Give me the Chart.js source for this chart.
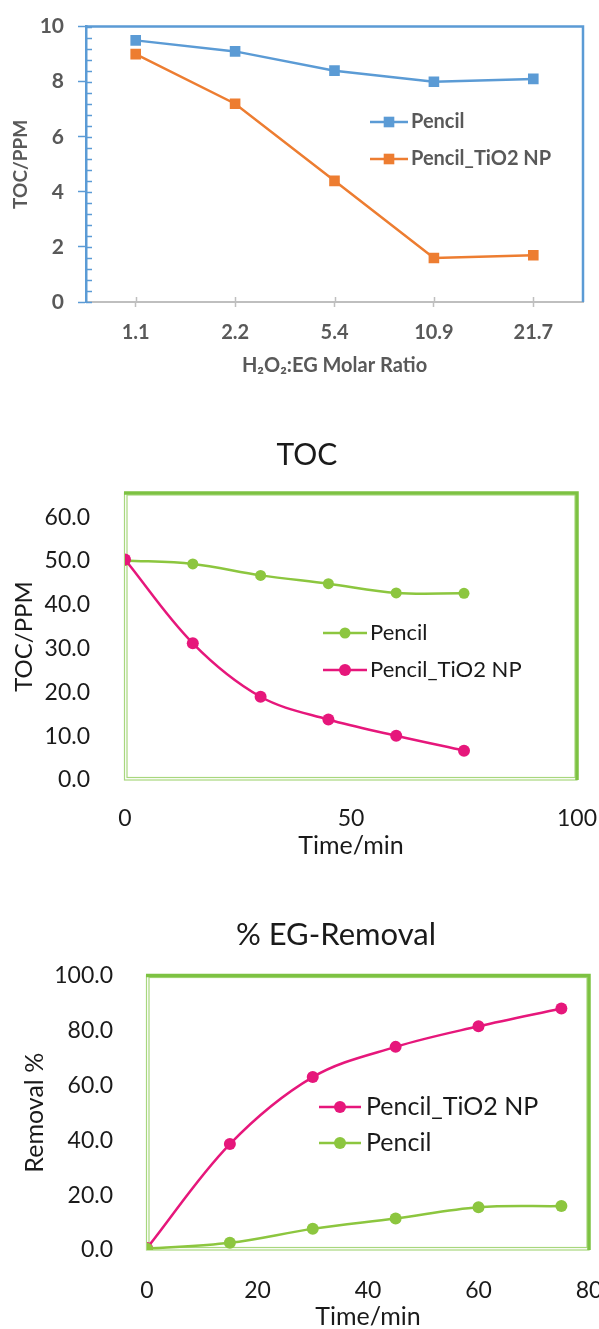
<!DOCTYPE html>
<html>
<head>
<meta charset="utf-8">
<script src="https://cdn.jsdelivr.net/npm/chart.js@4.4.1/dist/chart.umd.min.js"></script>
<style>
body { margin: 0; background: #fff; width: 599px; height: 1329px; overflow: hidden; position: relative; }
canvas { position: absolute; left: 0; }
</style>
</head>
<body>
<canvas id="chart1" width="599" height="380" style="top:0px"></canvas>
<canvas id="chart2" width="599" height="430" style="top:430px"></canvas>
<canvas id="chart3" width="599" height="432" style="top:900px"></canvas>
<script>
// chart 1: TOC vs H2O2:EG molar ratio
var molarRatios = ['1.1', '2.2', '5.4', '10.9', '21.7'];
var ratioPencil = [9.5, 9.1, 8.4, 8.0, 8.1];
var ratioPencilTiO2 = [9.0, 7.2, 4.4, 1.6, 1.7];

// chart 2: TOC vs time
var timeMin = [0, 15, 30, 45, 60, 75];
var tocPencil = [50.1, 49.3, 46.7, 44.8, 42.7, 42.6];
var tocPencilTiO2 = [50.3, 31.2, 19.0, 13.8, 10.1, 6.7];

// chart 3: % EG removal vs time
var removalPencilTiO2 = [0.7, 38.6, 63.0, 74.0, 81.5, 88.0];
var removalPencil = [0.5, 2.6, 7.7, 11.5, 15.6, 16.0];

var yTicks1 = [0, 2, 4, 6, 8, 10];
var yTicks2 = [0, 10, 20, 30, 40, 50, 60];
var yTicks3 = [0, 20, 40, 60, 80, 100];
var xTicks2 = [0, 50, 100];
var xTicks3 = [0, 20, 40, 60, 80];

var BLUE = '#5B9BD5', ORANGE = '#ED7D31', GREEN = '#8CC63F', PINK = '#E6177B';

Chart.defaults.font.family = 'Lato';

function pts(xs, ys) {
    return xs.map(function(x, i) { return { x: x, y: ys[i] }; });
}

function isListed(list, v) {
    return list.some(function(t) { return Math.abs(t - v) < 1e-6; });
}

function fixedTicks(list) {
    return function(s) { s.ticks = list.map(function(v) { return { value: v }; }); };
}

var blueFrame = {
    id: 'blueFrame',
    beforeDatasetsDraw: function(chart) {
        var a = chart.chartArea, ctx = chart.ctx;
        var ys = chart.scales.y, xs = chart.scales.x;
        ctx.save();
        ctx.strokeStyle = BLUE;
        ctx.lineWidth = 2.5;
        ctx.beginPath();
        ctx.moveTo(a.left, a.top);
        ctx.lineTo(a.right, a.top);
        ctx.lineTo(a.right, a.bottom);
        ctx.stroke();
        ctx.lineWidth = 1.5;
        ctx.beginPath();
        ys.ticks.forEach(function(t) {
            var y = Math.round(ys.getPixelForValue(t.value)) + 0.5;
            ctx.moveTo(a.left, y);
            ctx.lineTo(a.left + 6, y);
        });
        ctx.stroke();
        ctx.strokeStyle = '#BFBFBF';
        ctx.beginPath();
        xs.ticks.forEach(function(t, i) {
            var x = Math.round(xs.getPixelForTick(i)) + 0.5;
            ctx.moveTo(x, a.bottom);
            ctx.lineTo(x, a.bottom - 5);
        });
        ctx.stroke();
        ctx.restore();
    }
};

var greenFrame = {
    id: 'greenFrame',
    beforeDatasetsDraw: function(chart) {
        var a = chart.chartArea, ctx = chart.ctx;
        ctx.save();
        ctx.strokeStyle = '#A8D77E';
        ctx.lineWidth = 1.2;
        ctx.strokeRect(a.left - 0.5, a.top, a.right - a.left + 0.5, a.bottom - a.top);
        ctx.strokeRect(a.left + 2, a.top + 2, a.right - a.left - 4, a.bottom - a.top - 4.5);
        ctx.strokeStyle = '#7DC242';
        ctx.lineWidth = 3.5;
        ctx.beginPath();
        ctx.moveTo(a.left - 1, a.top);
        ctx.lineTo(a.right, a.top);
        ctx.lineTo(a.right, a.bottom);
        ctx.stroke();
        ctx.restore();
    }
};

var plotTitle = {
    id: 'plotTitle',
    afterDraw: function(chart, args, opts) {
        var ctx = chart.ctx;
        ctx.save();
        ctx.font = opts.font;
        ctx.fillStyle = opts.color;
        ctx.textAlign = 'center';
        ctx.textBaseline = 'middle';
        ctx.fillText(opts.text, opts.x, opts.y);
        ctx.restore();
    }
};

var insideLegend = {
    id: 'insideLegend',
    afterDraw: function(chart, args, opts) {
        var ctx = chart.ctx;
        chart.data.datasets.forEach(function(ds, i) {
            var y = opts.y[i];
            var mx = opts.x + opts.lineLength / 2;
            ctx.save();
            ctx.strokeStyle = ds.borderColor;
            ctx.lineWidth = ds.borderWidth;
            ctx.beginPath();
            ctx.moveTo(opts.x, y);
            ctx.lineTo(opts.x + opts.lineLength, y);
            ctx.stroke();
            ctx.fillStyle = ds.pointBackgroundColor;
            if (ds.pointStyle === 'rect') {
                var s = ds.pointRadius * Math.SQRT1_2;
                ctx.fillRect(mx - s, y - s, 2 * s, 2 * s);
            } else {
                ctx.beginPath();
                ctx.arc(mx, y, ds.pointRadius, 0, Math.PI * 2);
                ctx.fill();
            }
            ctx.font = opts.font;
            ctx.fillStyle = opts.color;
            ctx.textAlign = 'left';
            ctx.textBaseline = 'middle';
            ctx.fillText(ds.label, opts.x + opts.lineLength + opts.gap, y);
            ctx.restore();
        });
    }
};

// ---------- chart 1 ----------
new Chart(document.getElementById('chart1').getContext('2d'), {
    type: 'line',
    data: {
        labels: molarRatios,
        datasets: [{
            label: 'Pencil',
            data: ratioPencil,
            borderColor: BLUE,
            backgroundColor: BLUE,
            pointBackgroundColor: BLUE,
            borderWidth: 2.5,
            pointStyle: 'rect',
            pointRadius: 7.5,
            pointBorderWidth: 0,
            order: 2
        }, {
            label: 'Pencil_TiO2 NP',
            data: ratioPencilTiO2,
            borderColor: ORANGE,
            backgroundColor: ORANGE,
            pointBackgroundColor: ORANGE,
            borderWidth: 2.5,
            pointStyle: 'rect',
            pointRadius: 7.5,
            pointBorderWidth: 0,
            order: 1
        }]
    },
    options: {
        responsive: false,
        animation: false,
        layout: { padding: { top: 23, right: 16, left: 0, bottom: 0 } },
        plugins: {
            legend: { display: false },
            tooltip: { enabled: false },
            insideLegend: { x: 370, y: [122, 159], lineLength: 38, gap: 3, font: 'bold 20px Lato', color: '#595959' }
        },
        scales: {
            x: {
                offset: true,
                afterFit: function(s) { s.height = 78; s.paddingLeft = 0; s.paddingRight = 0; },
                grid: { drawOnChartArea: false, tickLength: 5, tickColor: '#BFBFBF', tickWidth: 1.5 },
                border: { color: '#BFBFBF', width: 2 },
                ticks: { padding: 14, color: '#595959', font: { size: 20, weight: 'bold' } },
                title: {
                    display: true, text: 'H₂O₂:EG Molar Ratio', color: '#595959',
                    font: { size: 20, weight: 'bold' }, padding: { top: 0, bottom: 2 }
                }
            },
            y: {
                min: 0,
                max: 10,
                afterFit: function(s) { s.width = 86; },
                grid: {
                    drawOnChartArea: false, tickLength: 8, tickWidth: 1.5,
                    tickColor: function(c) { return c.tick && isListed(yTicks1, c.tick.value) ? BLUE : 'rgba(0,0,0,0)'; }
                },
                border: { color: BLUE, width: 2.5 },
                ticks: {
                    stepSize: 0.4,
                    autoSkip: false,
                    padding: 14,
                    color: '#595959',
                    font: { size: 21, weight: 'bold' },
                    callback: function(v) { return isListed(yTicks1, v) ? Math.round(v) : ''; }
                },
                title: {
                    display: true, text: 'TOC/PPM', color: '#595959',
                    font: { size: 19, weight: 'bold' }, padding: { top: 9, bottom: 0 }
                }
            }
        }
    },
    plugins: [blueFrame, insideLegend]
});

// ---------- chart 2 ----------
new Chart(document.getElementById('chart2').getContext('2d'), {
    type: 'line',
    data: {
        datasets: [{
            label: 'Pencil',
            data: pts(timeMin, tocPencil),
            borderColor: GREEN,
            pointBackgroundColor: GREEN,
            borderWidth: 2.5,
            pointRadius: 5.5,
            pointBorderWidth: 0,
            tension: 0.35,
            order: 2
        }, {
            label: 'Pencil_TiO2 NP',
            data: pts(timeMin, tocPencilTiO2),
            borderColor: PINK,
            pointBackgroundColor: PINK,
            borderWidth: 2.5,
            pointRadius: 6,
            pointBorderWidth: 0,
            tension: 0.35,
            order: 1
        }]
    },
    options: {
        responsive: false,
        animation: false,
        layout: { padding: { top: 63, right: 22, left: 0, bottom: 0 } },
        plugins: {
            legend: { display: false },
            tooltip: { enabled: false },
            plotTitle: { text: 'TOC', x: 307, y: 25, font: '30px Lato', color: '#1a1a1a' },
            insideLegend: { x: 323, y: [203, 240], lineLength: 44, gap: 3, font: '22px Lato', color: '#1a1a1a' }
        },
        scales: {
            x: {
                type: 'linear',
                min: 0,
                max: 100,
                afterBuildTicks: fixedTicks(xTicks2),
                afterFit: function(s) { s.height = 80; s.paddingLeft = 0; s.paddingRight = 0; },
                grid: { display: false },
                border: { display: false },
                ticks: { padding: 17, color: '#1a1a1a', font: { size: 23 } },
                title: { display: true, text: 'Time/min', color: '#1a1a1a', font: { size: 25 }, padding: { top: 0, bottom: -1 } }
            },
            y: {
                min: 0,
                max: 65.5,
                afterBuildTicks: fixedTicks(yTicks2),
                afterFit: function(s) { s.width = 125; },
                grid: { display: false },
                border: { display: false },
                ticks: {
                    autoSkip: false,
                    padding: 27,
                    color: '#1a1a1a',
                    font: { size: 23 },
                    callback: function(v) { return v.toFixed(1); }
                },
                title: { display: true, text: 'TOC/PPM', color: '#1a1a1a', font: { size: 24 }, padding: { top: 10, bottom: 0 } }
            }
        }
    },
    plugins: [greenFrame, plotTitle, insideLegend]
});

// ---------- chart 3 ----------
new Chart(document.getElementById('chart3').getContext('2d'), {
    type: 'line',
    data: {
        datasets: [{
            label: 'Pencil_TiO2 NP',
            data: pts(timeMin, removalPencilTiO2),
            borderColor: PINK,
            pointBackgroundColor: PINK,
            borderWidth: 2.5,
            pointRadius: 6,
            pointBorderWidth: 0,
            tension: 0.35,
            order: 2
        }, {
            label: 'Pencil',
            data: pts(timeMin, removalPencil),
            borderColor: GREEN,
            pointBackgroundColor: GREEN,
            borderWidth: 2.5,
            pointRadius: 6,
            pointBorderWidth: 0,
            tension: 0.35,
            order: 1
        }]
    },
    options: {
        responsive: false,
        animation: false,
        layout: { padding: { top: 75.5, right: 10, left: 0, bottom: 0 } },
        plugins: {
            legend: { display: false },
            tooltip: { enabled: false },
            plotTitle: { text: '% EG-Removal', x: 336, y: 35, font: '31px Lato', color: '#1a1a1a' },
            insideLegend: { x: 319, y: [207, 243], lineLength: 42, gap: 5, font: '25px Lato', color: '#1a1a1a' }
        },
        scales: {
            x: {
                type: 'linear',
                min: 0,
                max: 80,
                afterBuildTicks: fixedTicks(xTicks3),
                afterFit: function(s) { s.height = 82; s.paddingLeft = 0; s.paddingRight = 0; },
                grid: { display: false },
                border: { display: false },
                ticks: { padding: 19, color: '#1a1a1a', font: { size: 23 } },
                title: { display: true, text: 'Time/min', color: '#1a1a1a', font: { size: 25 }, padding: { top: 0, bottom: 0 } }
            },
            y: {
                min: 0,
                max: 100,
                afterBuildTicks: fixedTicks(yTicks3),
                afterFit: function(s) { s.width = 147; },
                grid: { display: false },
                border: { display: false },
                ticks: {
                    autoSkip: false,
                    padding: 26,
                    color: '#1a1a1a',
                    font: { size: 23 },
                    callback: function(v) { return v.toFixed(1); }
                },
                title: { display: true, text: 'Removal %', color: '#1a1a1a', font: { size: 25 }, padding: { top: 20, bottom: 0 } }
            }
        }
    },
    plugins: [greenFrame, plotTitle, insideLegend]
});
</script>
</body>
</html>
